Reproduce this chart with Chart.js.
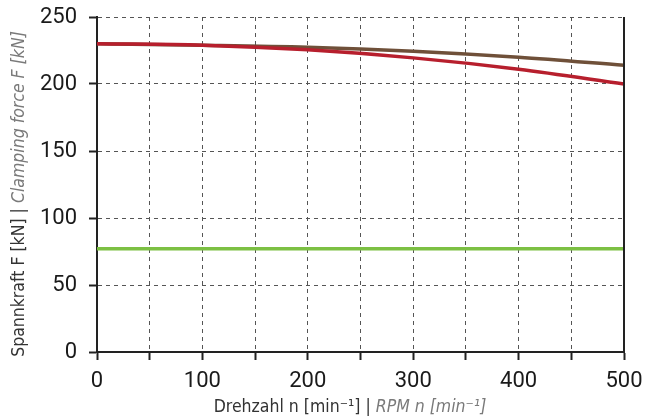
<!DOCTYPE html>
<html>
<head>
<meta charset="utf-8">
<script src="https://cdn.jsdelivr.net/npm/chart.js@4"></script>
<style>
  html, body { margin: 0; padding: 0; background: #fff; }
  #wrap { width: 647px; height: 419px; }
</style>
</head>
<body>
<div id="wrap"><canvas id="canvas" width="647" height="419"></canvas></div>
<script>
const rpm = [0, 100, 200, 300, 400, 500];
const forceBrown = [230, 229, 227.5, 224.5, 220, 214];
const forceRed = [230, 229, 225.5, 219.5, 211, 200];
const forceGreen = [77, 77, 77, 77, 77, 77];

const xTitle = ['Drehzahl n [min\u207B\u00B9] | ', 'RPM n [min\u207B\u00B9]'];
const yTitle = ['Spannkraft F [kN] | ', 'Clamping force F [kN]'];

const tickFont = { family: 'Roboto', size: 22 };
const titleFamily = "'DejaVu Sans Condensed'";

function points(values) {
    return rpm.map((r, i) => ({ x: r, y: values[i] }));
}

// titles are two-tone (normal + italic grey), so drawn by hand
const titlesPlugin = {
    id: 'titles',
    afterDraw(chart) {
        const ctx = chart.ctx;
        const area = chart.chartArea;
        const f1 = '17.5px ' + titleFamily;
        const f2 = 'italic 17.5px ' + titleFamily;

        function twoTone(parts, cx, cy) {
            ctx.font = f1;
            const w1 = ctx.measureText(parts[0]).width;
            ctx.font = f2;
            const w2 = ctx.measureText(parts[1]).width;
            const x0 = cx - (w1 + w2) / 2;
            ctx.textBaseline = 'middle';
            ctx.textAlign = 'left';
            ctx.font = f1;
            ctx.fillStyle = '#333';
            ctx.fillText(parts[0], x0, cy);
            ctx.font = f2;
            ctx.fillStyle = '#7a7a7a';
            ctx.fillText(parts[1], x0 + w1, cy);
        }

        ctx.save();
        twoTone(xTitle, 350, 407);
        ctx.restore();

        ctx.save();
        ctx.translate(19, 194);
        ctx.rotate(-Math.PI / 2);
        twoTone(yTitle, 0, 0);
        ctx.restore();

        // right frame line
        ctx.save();
        ctx.strokeStyle = '#222';
        ctx.lineWidth = 2;
        ctx.beginPath();
        ctx.moveTo(area.right, area.top);
        ctx.lineTo(area.right, area.bottom);
        ctx.stroke();
        ctx.restore();
    }
};

const ctx = document.getElementById('canvas').getContext('2d');

new Chart(ctx, {
    type: 'line',
    data: {
        datasets: [
            { data: points(forceRed), borderColor: '#b71f2d', borderWidth: 3.5 },
            { data: points(forceBrown), borderColor: '#6f5039', borderWidth: 3.5 },
            { data: points(forceGreen), borderColor: '#7cc043', borderWidth: 3.5 }
        ]
    },
    options: {
        responsive: false,
        animation: false,
        layout: { padding: { top: 17, right: 23, left: 0, bottom: 0 } },
        elements: {
            point: { radius: 0 },
            line: { tension: 0.4, cubicInterpolationMode: 'monotone', fill: false }
        },
        plugins: { legend: { display: false }, tooltip: { enabled: false } },
        scales: {
            x: {
                type: 'linear',
                min: 0,
                max: 500,
                ticks: {
                    stepSize: 50,
                    autoSkip: false,
                    maxRotation: 0,
                    padding: 8,
                    color: '#1a1a1a',
                    font: tickFont,
                    callback: v => (v % 100 === 0 ? v : '')
                },
                grid: { color: '#555', lineWidth: 1, tickLength: 8, tickColor: '#222', tickWidth: 2 },
                border: { color: '#222', width: 2, dash: [4, 4] },
                afterFit(scale) {
                    scale.height = 67;
                    scale.paddingLeft = 0;
                    scale.paddingRight = 0;
                }
            },
            y: {
                min: 0,
                max: 250,
                ticks: {
                    stepSize: 50,
                    padding: 12,
                    color: '#1a1a1a',
                    font: tickFont
                },
                grid: { color: '#555', lineWidth: 1, tickLength: 8, tickColor: '#222', tickWidth: 2 },
                border: { color: '#222', width: 2, dash: [4, 4] },
                afterFit(scale) {
                    scale.width = 97;
                    scale.paddingTop = 0;
                    scale.paddingBottom = 0;
                }
            }
        }
    },
    plugins: [titlesPlugin]
});
</script>
</body>
</html>
